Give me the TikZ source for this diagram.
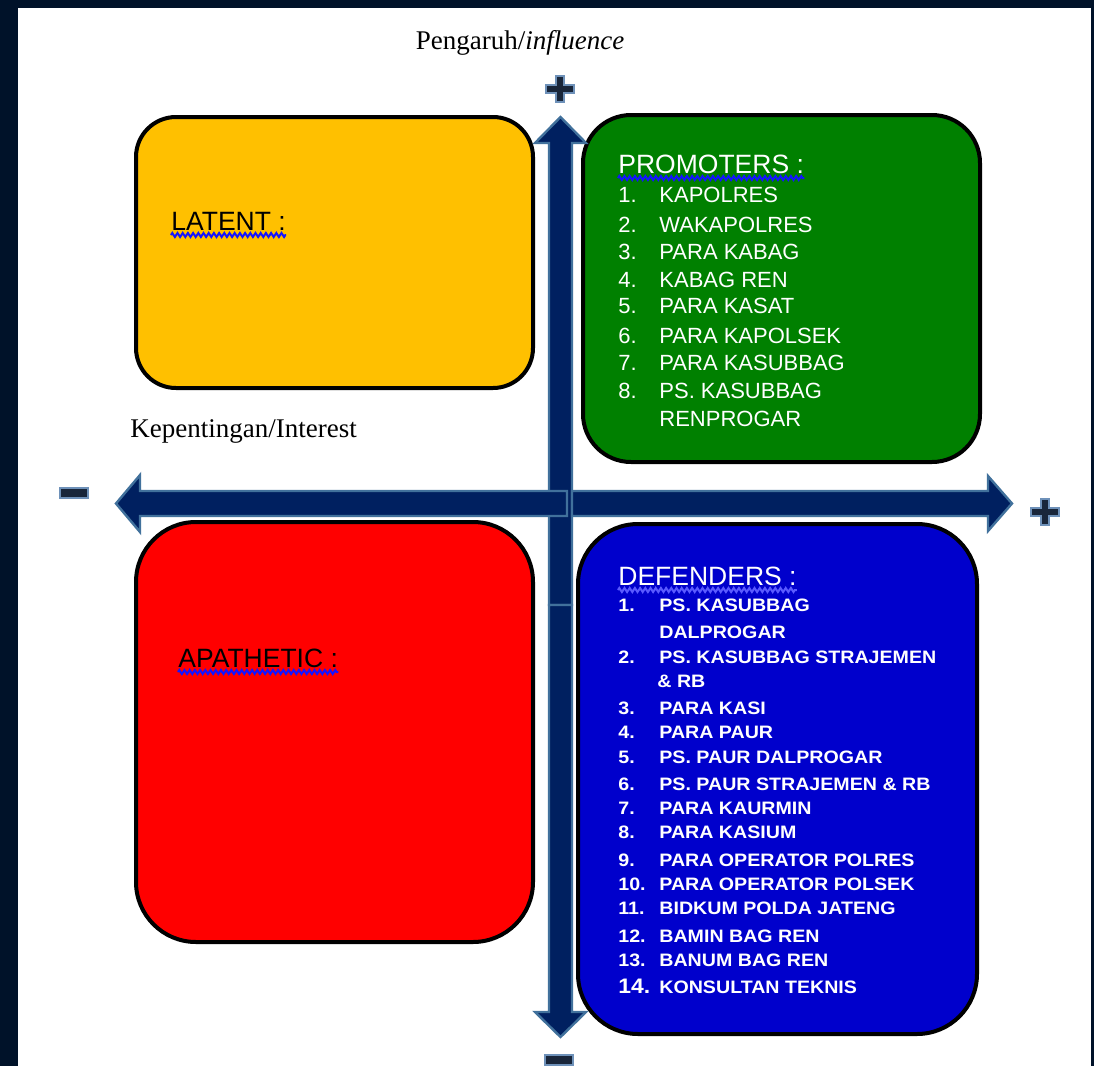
\documentclass[tikz,border=0pt]{standalone}
\usepackage{fontspec}
\setmainfont{Liberation Serif}
\newfontfamily\arialf{Liberation Sans}
\newfontfamily\defont[FakeStretch=1.09]{Liberation Sans}
\usetikzlibrary{decorations.pathmorphing}
\definecolor{navyarrow}{RGB}{0,32,96}
\definecolor{arrowedge}{RGB}{65,113,156}
\definecolor{framebg}{RGB}{0,18,41}
\definecolor{latentc}{RGB}{255,192,0}
\definecolor{promc}{RGB}{0,128,0}
\definecolor{apac}{RGB}{255,0,0}
\definecolor{defc}{RGB}{0,0,204}
\definecolor{signfill}{RGB}{25,38,58}
\definecolor{signedge}{RGB}{110,145,185}
\definecolor{squigblue}{RGB}{20,20,255}
\definecolor{squiglight}{RGB}{90,90,255}
\begin{document}
\begin{tikzpicture}[x=0.5pt,y=-0.5pt,
  quad/.style={draw=black,line width=2pt,inner sep=0pt},
  arrowshape/.style={fill=navyarrow,draw=arrowedge,line width=1.2pt,line join=miter},
  signstyle/.style={fill=signfill,draw=signedge,line width=1.1pt,line join=miter},
  axistitle/.style={inner sep=0pt,font=\fontsize{13.5}{16}\selectfont},
  headlbl/.style={anchor=base west,inner sep=0pt,font=\arialf\fontsize{13.25}{15}\selectfont},
  gitem/.style={anchor=base west,inner sep=0pt,text=white,font=\arialf\fontsize{11}{13}\selectfont},
  ditem/.style={anchor=base west,inner sep=0pt,text=white,font=\defont\bfseries\fontsize{9}{11}\selectfont},
  squiggle/.style={draw=squigblue,line width=1pt,decorate,decoration={zigzag,segment length=2.6pt,amplitude=1pt}},
  plussign/.pic={\path[signstyle] (-14,-4) -- (-4,-4) -- (-4,-13) -- (4,-13) -- (4,-4) -- (14,-4) -- (14,4) -- (4,4) -- (4,13) -- (-4,13) -- (-4,4) -- (-14,4) -- cycle;},
  minussign/.pic={\path[signstyle] (-14,-5) rectangle (14,5);}
]
\useasboundingbox (0,0) rectangle (1094,1066);
% frame
\fill[framebg] (0,0) rectangle (1094,1066);
\fill[white] (18,8) rectangle (1091,1066);

% quadrant boxes
\node[quad,fill=latentc,rounded corners=20pt,minimum width=198.5pt,minimum height=135.5pt] (latent) at (334.5,252.5) {};
\node[quad,fill=promc,rounded corners=24pt,minimum width=198.5pt,minimum height=173.5pt] (promoters) at (781.5,288.5) {};
\node[quad,fill=apac,rounded corners=30pt,minimum width=198.5pt,minimum height=210pt] (apathetic) at (334.5,732) {};
\node[quad,fill=defc,rounded corners=30pt,minimum width=199.5pt,minimum height=255pt] (defenders) at (777.5,779) {};

% axes arrows
\path[arrowshape] (549,605) -- (549,143) -- (535,143) -- (560.5,117) -- (586,143) -- (572,143) -- (572,605) -- cycle;
\path[arrowshape] (549,605) -- (549,1012) -- (535,1012) -- (560.5,1037) -- (586,1012) -- (572,1012) -- (572,605) -- cycle;
\path[arrowshape] (567,491) -- (140,491) -- (140,475) -- (116,503.5) -- (140,532) -- (140,516) -- (567,516) -- cycle;
\path[arrowshape] (572,491) -- (988,491) -- (988,476) -- (1012,503.5) -- (988,531) -- (988,516) -- (572,516) -- cycle;

% signs
\pic at (560,89) {plussign};
\pic at (1045,512) {plussign};
\pic at (74,493) {minussign};
\pic at (559,1060) {minussign};

% axis titles
\node[axistitle,anchor=base] (infl) at (520,49) {Pengaruh/\textit{influence}};
\node[axistitle,anchor=base west] (intr) at (130,437) {Kepentingan/Interest};

% quadrant headings
\node[headlbl] (latentlbl) at (171,230) {LATENT :};
\node[headlbl] (apalbl) at (178,667) {APATHETIC :};
\node[headlbl,text=white] (promlbl) at (618,173) {PROMOTERS :};
\node[headlbl,text=white] (deflbl) at (618,585) {DEFENDERS :};

\draw[squiggle] ([yshift=-2.5pt]latentlbl.base west) -- ([yshift=-2.5pt]latentlbl.base east);
\draw[squiggle] ([yshift=-2.5pt]apalbl.base west) -- ([yshift=-2.5pt]apalbl.base east);
\draw[squiggle] ([yshift=-2.5pt]promlbl.base west) -- ([yshift=-2.5pt]promlbl.base east);
\draw[squiggle,draw=squiglight] ([yshift=-2.5pt]deflbl.base west) -- ([yshift=-2.5pt]deflbl.base east);

% promoters list
\foreach \yy/\nn/\tt [count=\k] in {202/1./KAPOLRES,232/2./WAKAPOLRES,259/3./PARA KABAG,287/4./KABAG REN,313/5./PARA KASAT,343/6./PARA KAPOLSEK,370/7./PARA KASUBBAG,398/8./PS. KASUBBAG,426//RENPROGAR}{
  \node[gitem] (pn\k) at (618,\yy) {\nn};
  \node[gitem] (pt\k) at (659,\yy) {\tt};
}

% defenders list
\foreach \yy/\nn/\tt [count=\k] in {611/1./PS. KASUBBAG,638//DALPROGAR,663/2./PS. KASUBBAG STRAJEMEN,714/3./PARA KASI,738/4./PARA PAUR,763/5./PS. PAUR DALPROGAR,790/6./PS. PAUR STRAJEMEN \& RB,814/7./PARA KAURMIN,838/8./PARA KASIUM,866/9./PARA OPERATOR POLRES,890/10./PARA OPERATOR POLSEK,914/11./BIDKUM POLDA JATENG,942/12./BAMIN BAG REN,966/13./BANUM BAG REN}{
  \node[ditem] (dn\k) at (618,\yy) {\nn};
  \node[ditem] (dt\k) at (659,\yy) {\tt};
}
\node[ditem] (dtrb) at (657,687) {\& RB};
\node[ditem,font=\defont\bfseries\fontsize{10.5}{12}\selectfont] (dn14) at (618,993) {14.};
\node[ditem] (dt14) at (659,993) {KONSULTAN TEKNIS};
\end{tikzpicture}
\end{document}
